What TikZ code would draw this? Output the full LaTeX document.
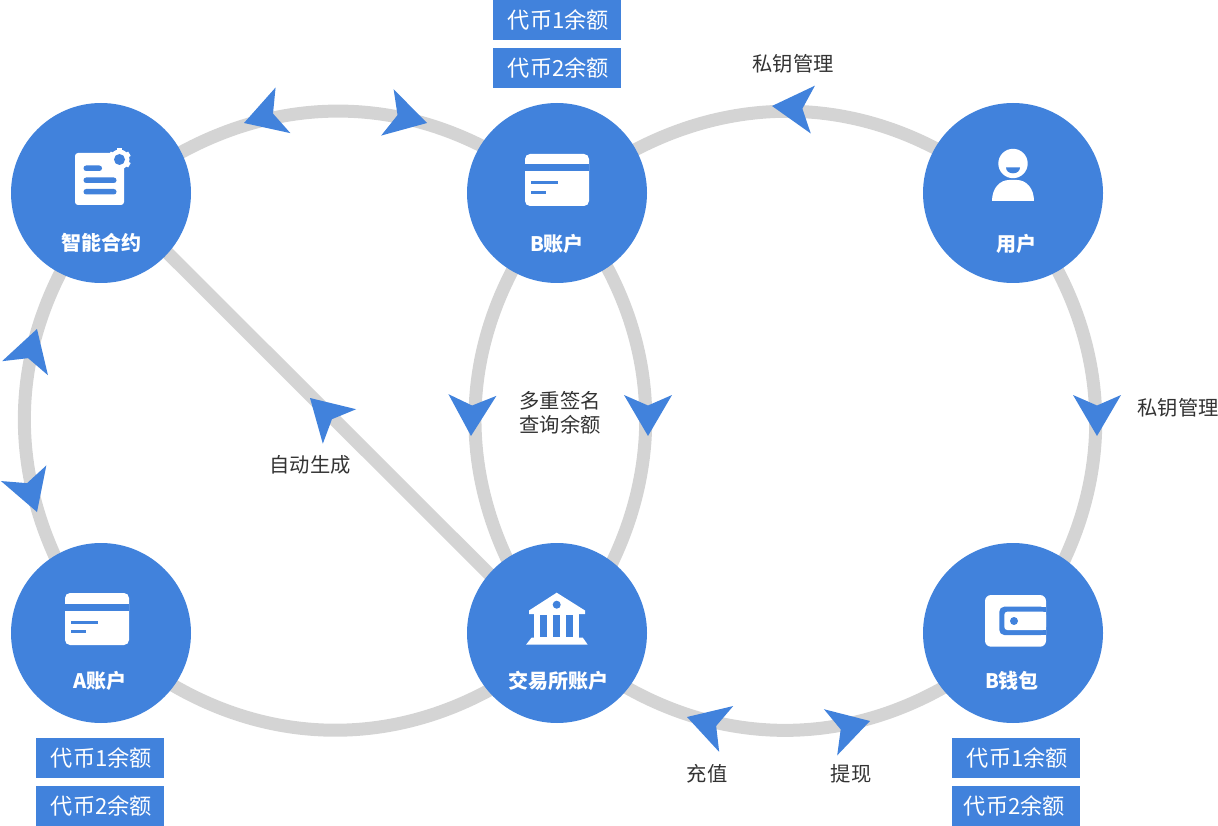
\documentclass[tikz,border=0pt]{standalone}
\usepackage{fontspec}
\setmainfont{Noto Sans CJK SC}
\usetikzlibrary{backgrounds}
\definecolor{ringblue}{HTML}{4182DC}
\definecolor{trackgray}{HTML}{D4D4D4}
\definecolor{wordgray}{HTML}{333333}
\tikzset{
  ring/.style={circle,fill=ringblue,minimum size=180pt,inner sep=0pt},
  ringtext/.style={text=white,font=\bfseries\fontsize{20}{20}\selectfont,inner sep=0pt},
  pill/.style={fill=ringblue,text=white,minimum width=128pt,minimum height=40pt,inner sep=0pt,font=\fontsize{22.2}{23}\selectfont},
  word/.style={text=wordgray,inner sep=0pt,font=\fontsize{20.3}{24}\selectfont},
  track/.style={draw=trackgray,line width=13pt,shorten <=-9pt,shorten >=-9pt},
  headmark/.pic={\fill[ringblue] (0,0) -- (-41,24) -- (-30.5,0) -- (-41,-24) -- cycle;},
  cardicon/.pic={
    \fill[white,rounded corners=5pt] (-32,-26) rectangle (32,26);
    \fill[ringblue] (-32,-15.5) rectangle (32,-8.5);
    \fill[ringblue] (-26.5,1.5) rectangle (1,4.5);
    \fill[ringblue] (-26.5,11) rectangle (-11,14);
  }
}
\begin{document}
\begin{tikzpicture}[x=1pt,y=-1pt]
  \useasboundingbox (0,0) rectangle (1218,826);
  % circles
  \node[ring] at(101,193)(contract){};
  \node[ring] at(557,193)(baccount){};
  \node[ring] at(1013,193)(user){};
  \node[ring] at(101,633)(aaccount){};
  \node[ring] at(557,633)(exchange){};
  \node[ring] at(1013,633)(bwallet){};
  % grey tracks
  \begin{pgfonlayer}{background}
    % left ring
    \draw[track] (contract.27.8) to[out=29.8,in=152.1,distance=106.5pt] (baccount.148.5);
    \draw[track] (baccount.-56.9) to[out=-60.6,in=63.1,distance=104pt] (exchange.52.2);
    \draw[track] (exchange.220.5) to[out=-150.4,in=-31.3,distance=112.7pt] (aaccount.-36.6);
    \draw[track] (aaccount.121) to[out=115.7,in=241.7,distance=99.6pt] (contract.243.7);
    % right ring
    \draw[track] (baccount.29.7) to[out=28.8,in=151.2,distance=106.3pt] (user.150.3);
    \draw[track] (user.-60.3) to[out=-61.2,in=63.7,distance=101.7pt] (bwallet.55.6);
    \draw[track] (bwallet.218.6) to[out=-149.5,in=-30.5,distance=112.9pt] (exchange.-38.6);
    \draw[track] (exchange.124.4) to[out=116.3,in=241.2,distance=101.7pt] (baccount.240.3);
    % straight track
    \draw[track] (exchange.139.5) -- (contract.-42.3);
  \end{pgfonlayer}
  % circle labels
  \node[ringtext] at(101,243)(contractname){智能合约};
  \node[ringtext] at(557,244)(baccountname){B账户};
  \node[ringtext] at(1016,244)(username){用户};
  \node[ringtext] at(100,681)(aaccountname){A账户};
  \node[ringtext] at(558,681)(exchangename){交易所账户};
  \node[ringtext] at(1012,681)(bwalletname){B钱包};
  % balance boxes
  \node[pill] at(557,20)(bfirst){\hspace*{3pt}代币1余额};
  \node[pill] at(557,68)(bsecond){\hspace*{3pt}代币2余额};
  \node[pill] at(100,758)(afirst){\hspace*{3pt}代币1余额};
  \node[pill] at(100,806)(asecond){\hspace*{3pt}代币2余额};
  \node[pill] at(1016,758)(wfirst){\hspace*{3pt}代币1余额};
  \node[pill] at(1016,806)(wsecond){\hspace*{-3pt}代币2余额};
  % texts
  \node[word] at(793,64)(keytop){私钥管理};
  \node[word] at(1178,408)(keyright){私钥管理};
  \node[word,align=center] at(560,413)(middle){多重签名\\查询余额};
  \node[word] at(310,465)(autogen){自动生成};
  \node[word] at(707,774)(deposit){充值};
  \node[word] at(851,774)(withdraw){提现};
  % arrow heads
  \pic[rotate=198] at(244,123){headmark};
  \pic[rotate=-15] at(427,123){headmark};
  \pic[rotate=175] at(772,106){headmark};
  \pic[rotate=-90] at(1097,436){headmark};
  \pic[rotate=-90] at(648,436){headmark};
  \pic[rotate=-92] at(471,436){headmark};
  \pic[rotate=73] at(37,329){headmark};
  \pic[rotate=-71] at(37,512){headmark};
  \pic[rotate=136] at(310,398){headmark};
  \pic[rotate=163] at(687,717){headmark};
  \pic[rotate=16] at(870,721){headmark};
  % icons
  \pic at(557,180){cardicon};
  \pic at(97,619){cardicon};
  % contract icon
  \fill[white,rounded corners=3pt] (75,153) rectangle (124,205);
  \foreach \a in {0,60,...,300}
    \fill[white,shift={(119.5,159.5)},rotate=\a] (-2.5,-11.5) rectangle (2.5,0);
  \fill[white] (119.5,159.5) circle (10pt);
  \fill[ringblue] (119.5,159.5) circle (5.5pt);
  \fill[ringblue,rounded corners=2.7pt] (83.5,165.5) rectangle (102,171);
  \fill[ringblue,rounded corners=2.7pt] (83.5,177.5) rectangle (116.5,183);
  \fill[ringblue,rounded corners=2.7pt] (83.5,189) rectangle (116.5,194.5);
  % user icon
  \fill[white] (1013,163.5) circle (14.7pt);
  \fill[ringblue] (1006,167.3) -- (1020,167.3) .. controls (1020,171) and (1017,173.3) .. (1013,173.3) .. controls (1009,173.3) and (1006,171) .. (1006,167.3) -- cycle;
  \fill[white] (992,201) .. controls (992,188) and (1000,180) .. (1009,180) -- (1017,180) .. controls (1026,180) and (1034,188) .. (1034,201) -- cycle;
  % bank icon
  \fill[white] (556.7,592.7) -- (585,610.5) -- (585,614) -- (529,614) -- (529,610.5) -- cycle;
  \fill[white] (534.3,614) rectangle (579.3,638);
  \fill[white] (531.7,637.5) -- (582.7,637.5) -- (587.7,644.7) -- (526,644.7) -- cycle;
  \fill[ringblue] (556.7,604.7) circle (4pt);
  \fill[ringblue] (540.3,614.7) rectangle (547.3,637.3);
  \fill[ringblue] (553,614.7) rectangle (560,637.3);
  \fill[ringblue] (565.7,614.7) rectangle (572.7,637.3);
  % wallet icon
  \fill[white,rounded corners=6pt] (985,595) rectangle (1046,646.7);
  \fill[ringblue,rounded corners=5pt] (1046,606.7) -- (999.3,606.7) -- (999.3,635) -- (1046,635) -- cycle;
  \fill[ringblue] (1040,606.7) rectangle (1046,635);
  \fill[white,rounded corners=3pt] (1046,611.7) -- (1004.3,611.7) -- (1004.3,630) -- (1046,630) -- cycle;
  \fill[white] (1040,611.7) rectangle (1046,630);
  \fill[ringblue] (1014,621) circle (4pt);
\end{tikzpicture}
\end{document}
